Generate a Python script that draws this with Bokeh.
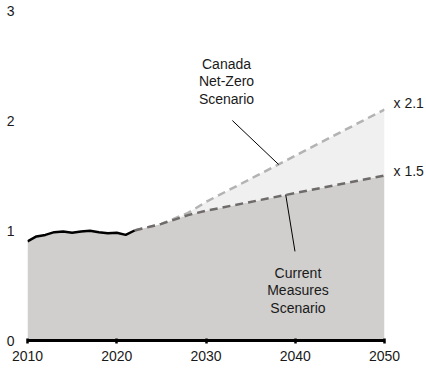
from bokeh.plotting import figure
from bokeh.models import Range1d, FixedTicker, Label, LinearAxis
from bokeh.embed import file_html
from bokeh.resources import INLINE

# --- data ---
hist_years = [2010, 2011, 2012, 2013, 2014, 2015, 2016, 2017, 2018, 2019, 2020, 2021, 2022]
hist_vals = [0.90, 0.946, 0.96, 0.985, 0.99, 0.98, 0.99, 0.997, 0.985, 0.976, 0.98, 0.96, 1.0]

proj_years = [2022, 2025, 2028, 2030, 2035, 2040, 2045, 2050]
cms_vals = [1.0, 1.06, 1.14, 1.18, 1.26, 1.34, 1.42, 1.50]
nz_vals = [1.0, 1.06, 1.16, 1.26, 1.47, 1.68, 1.89, 2.10]

x_ticks = [2010, 2020, 2030, 2040, 2050]
y_ticks = [0, 1, 2, 3]

nz_label = ["Canada", "Net-Zero", "Scenario"]
cms_label = ["Current", "Measures", "Scenario"]
end_labels = ["x 2.1", "x 1.5"]

FONT = "Liberation Sans"
FS = "14px"
TXT = "#1a1a1a"

p = figure(width=426, height=368, output_backend="svg", toolbar_location=None,
           x_range=Range1d(2010, 2050), y_range=Range1d(0, 3),
           min_border_left=27, min_border_right=42, min_border_top=10, min_border_bottom=28)
p.background_fill_color = "white"
p.border_fill_color = "white"
p.outline_line_color = None
p.xgrid.visible = False
p.ygrid.visible = False

# fills
all_x = hist_years + proj_years[1:]
all_y = hist_vals + cms_vals[1:]
p.varea(x=all_x, y1=[0] * len(all_x), y2=all_y, fill_color="#d0cfcd")
p.varea(x=proj_years, y1=cms_vals, y2=nz_vals, fill_color="#f0f0f0")

# lines
p.line(proj_years, nz_vals, line_color="#b3b3b3", line_width=2.5, line_dash="8 5")
p.line(proj_years, cms_vals, line_color="#6f6b6a", line_width=2.5, line_dash="8 5")
p.line(hist_years, hist_vals, line_color="black", line_width=2.5)

# leader lines
p.segment(x0=[2032.95, 2038.93], y0=[2.0, 1.327], x1=[2038.14, 2039.97], y1=[1.60, 0.81],
          line_color="black", line_width=1)

# scenario labels
for i, t in enumerate(nz_label):
    p.add_layout(Label(x=2032.3, y=[2.51, 2.355, 2.20][i], text=t, text_align="center",
                       text_baseline="middle", text_font=FONT, text_font_size=FS,
                       text_color=TXT))
for i, t in enumerate(cms_label):
    p.add_layout(Label(x=2040.3, y=[0.61, 0.455, 0.30][i], text=t, text_align="center",
                       text_baseline="middle", text_font=FONT, text_font_size=FS,
                       text_color=TXT))

# end-value labels as a right axis
end_pos = [round(nz_vals[-1] + 0.055, 3), round(cms_vals[-1] + 0.045, 3)]
ra = LinearAxis(ticker=FixedTicker(ticks=end_pos),
                major_label_overrides={end_pos[0]: end_labels[0], end_pos[1]: end_labels[1]})
ra.axis_line_color = None
ra.major_tick_line_color = None
ra.minor_tick_line_color = None
ra.major_tick_in = 0
ra.major_tick_out = 0
ra.major_label_standoff = 9
ra.major_label_text_font = FONT
ra.major_label_text_font_size = FS
ra.major_label_text_color = TXT
p.add_layout(ra, "right")

# axes
xa = p.xaxis[0]
xa.ticker = FixedTicker(ticks=x_ticks)
xa.axis_line_color = "black"
xa.axis_line_width = 3
xa.major_tick_line_color = "black"
xa.major_tick_line_width = 2.5
xa.major_tick_in = 2
xa.major_tick_out = 3
xa.minor_tick_line_color = None
xa.major_label_standoff = 7
xa.major_label_text_font = FONT
xa.major_label_text_font_size = FS
xa.major_label_text_color = TXT

ya = p.yaxis[0]
ya.ticker = FixedTicker(ticks=y_ticks)
ya.axis_line_color = None
ya.major_tick_line_color = None
ya.minor_tick_line_color = None
ya.major_tick_out = 0
ya.major_tick_in = 0
ya.major_label_standoff = 13
ya.major_label_text_font = FONT
ya.major_label_text_font_size = FS
ya.major_label_text_color = TXT

open("out.html", "w").write(file_html(p, INLINE))
